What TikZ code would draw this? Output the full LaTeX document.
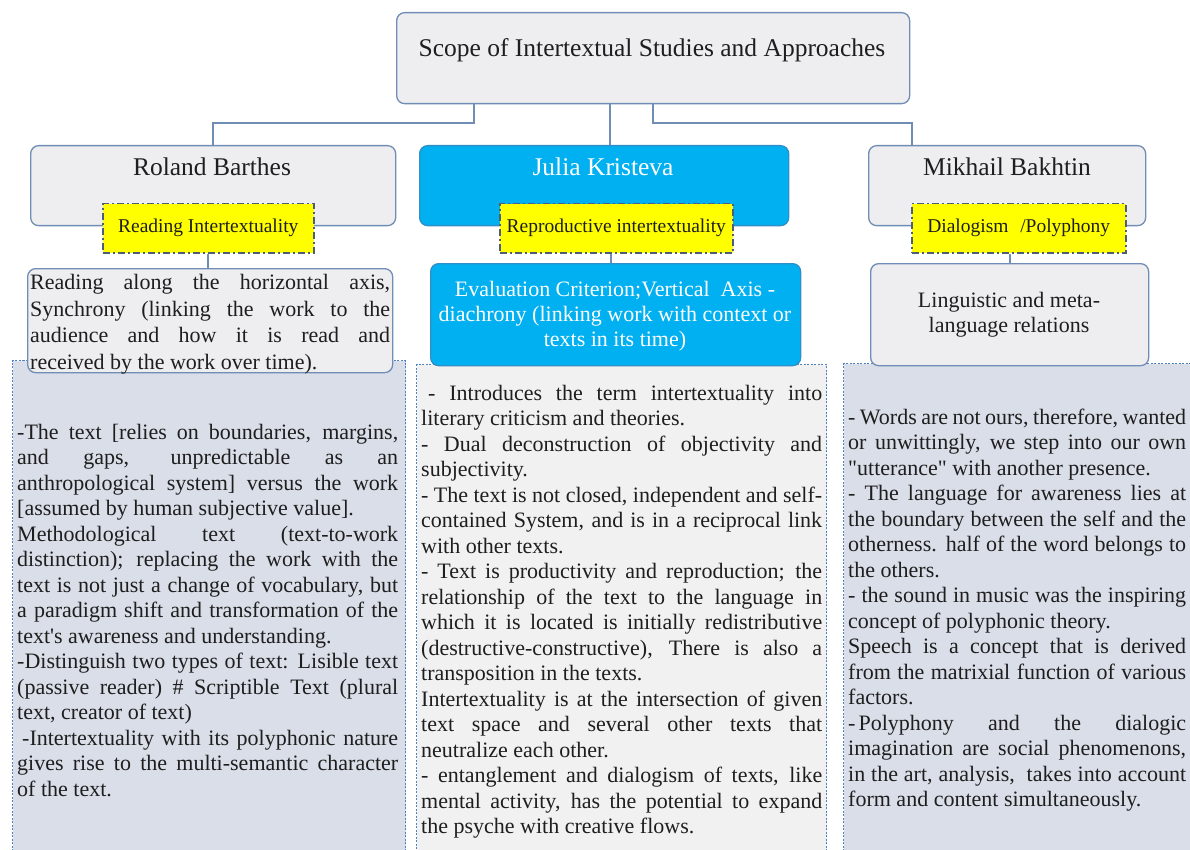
\documentclass[tikz,border=0pt]{standalone}
\usepackage{fontspec}
\setmainfont{Liberation Serif}
\newcommand\jl[2]{\makebox[#1pt][s]{#2}}
\definecolor{edge}{HTML}{6F8DB5}
\definecolor{hdrfill}{HTML}{EEEEF0}
\definecolor{kcyan}{HTML}{00B0F0}
\definecolor{kedge}{HTML}{2F8FC8}
\definecolor{yel}{HTML}{FFFF00}
\definecolor{yedge}{HTML}{4C5E78}
\definecolor{bigblue}{HTML}{D9DEE8}
\definecolor{biggray}{HTML}{F1F1F1}
\definecolor{dotedge}{HTML}{4F81BD}
\definecolor{ink}{HTML}{1E1E1E}
\tikzset{
  hdr/.style={draw=edge, line width=1.3pt, rounded corners=8pt, fill=hdrfill, inner sep=0pt, anchor=north west},
  cyanbox/.style={draw=kedge, line width=1.3pt, rounded corners=8pt, fill=kcyan, inner sep=0pt, anchor=north west},
  yelbox/.style={draw=yedge, line width=1.5pt, dash pattern=on 7pt off 3pt on 2pt off 3pt, fill=yel, inner sep=0pt, anchor=north west, font=\fontsize{19.5}{22}\selectfont, text=ink},
  bigbox/.style={draw=dotedge, line width=1pt, dash pattern=on 2pt off 1.5pt, inner sep=0pt, anchor=north west},
  conn/.style={draw=edge, line width=2pt},
  headtxt/.style={font=\fontsize{25.5}{30}\selectfont, inner sep=0pt},
  bodytxt/.style={font=\fontsize{22}{25.5}\selectfont, text=ink, inner sep=0pt, align=left, anchor=north west},
}
\begin{document}
\begin{tikzpicture}[x=1pt,y=-1pt]
\useasboundingbox (0,0) rectangle (1190,850);
\clip (0,0) rectangle (1190,850);

% big text boxes
\node[bigbox, fill=bigblue, minimum width=393pt, minimum height=500pt] (big1) at (12,360) {};
\node[bigbox, fill=biggray, minimum width=410pt, minimum height=500pt] (big2) at (416,364) {};
\node[bigbox, fill=bigblue, minimum width=370pt, minimum height=500pt] (big3) at (843,363) {};

% top box
\node[hdr, minimum width=513pt, minimum height=91pt] (top) at (396,12) {};
\node[headtxt, text=ink] (ttl) at (652,50) {Scope of Intertextual Studies and Approaches};

% header boxes
\node[hdr, minimum width=365pt, minimum height=80pt] (barthes) at (30,145) {};
\node[cyanbox, minimum width=369pt, minimum height=80pt] (kristeva) at (419,145) {};
\node[hdr, minimum width=277pt, minimum height=80pt] (bakhtin) at (868,145) {};
\node[headtxt, text=ink] (tb) at (212,167) {Roland Barthes};
\node[headtxt, text=white] (tk) at (603,167) {Julia Kristeva};
\node[headtxt, text=ink] (tm) at (1007,167) {Mikhail Bakhtin};

% yellow labels
\node[yelbox, minimum width=211pt, minimum height=49pt] (lab1) at (102,203) {Reading Intertextuality};
\node[yelbox, minimum width=233pt, minimum height=49pt] (lab2) at (499,203) {Reproductive intertextuality};
\node[yelbox, minimum width=214pt, minimum height=49pt] (lab3) at (911,203) {Dialogism\hspace{0.6em}/Polyphony};

% sub boxes
\node[hdr, minimum width=365pt, minimum height=104pt] (sub1) at (27,268) {};
\node[cyanbox, minimum width=370pt, minimum height=102pt] (sub2) at (430,263) {};
\node[hdr, minimum width=278pt, minimum height=102pt] (sub3) at (870,263) {};

\node[bodytxt, font=\fontsize{22}{26.5}\selectfont] (s1t) at (30,271) {%
\strut\jl{360}{Reading along the horizontal axis,}\\
\jl{360}{Synchrony (linking the work to the}\\
\jl{360}{audience and how it is read and}\\
received by the work over time).};
\node[font=\fontsize{22}{25}\selectfont, text=white, align=center, inner sep=0pt] (s2t) at (615,316) {%
Evaluation Criterion;Vertical\hspace{0.5em}Axis -\\
diachrony (linking work with context or\\
texts in its time)};
\node[font=\fontsize{22}{25}\selectfont, text=ink, align=center, inner sep=0pt] (s3t) at (1009,315) {%
Linguistic and meta-\\
language relations};

% body texts
\node[bodytxt] (b1t) at (17,421) {%
\strut\jl{381}{-The text [relies on boundaries, margins,}\\
\jl{381}{and gaps, unpredictable as an}\\
\jl{381}{anthropological system] versus the work}\\
{[}assumed by human subjective value].\\
\jl{381}{Methodological text (text-to-work}\\
\jl{381}{distinction); replacing the work with the}\\
\jl{381}{text is not just a change of vocabulary, but}\\
\jl{381}{a paradigm shift and transformation of the}\\
text\textquotesingle s awareness and understanding.\\
\jl{381}{-Distinguish two types of text: Lisible text}\\
\jl{381}{(passive reader) \# Scriptible Text (plural}\\
text, creator of text)\\
\hspace*{5pt}\jl{376}{-Intertextuality with its polyphonic nature}\\
\jl{381}{gives rise to the multi-semantic character}\\
of the text.};

\node[bodytxt] (b2t) at (421,382) {%
\strut\hspace*{7pt}\jl{394}{- Introduces the term intertextuality into}\\
literary criticism and theories.\\
\jl{401}{- Dual deconstruction of objectivity and}\\
subjectivity.\\
\jl{401}{- The text is not closed, independent and self-}\\
\jl{401}{contained System, and is in a reciprocal link}\\
with other texts.\\
\jl{401}{- Text is productivity and reproduction; the}\\
\jl{401}{relationship of the text to the language in}\\
\jl{401}{which it is located is initially redistributive}\\
\jl{401}{(destructive-constructive), There is also a}\\
transposition in the texts.\\
\jl{401}{Intertextuality is at the intersection of given}\\
\jl{401}{text space and several other texts that}\\
neutralize each other.\\
\jl{401}{- entanglement and dialogism of texts, like}\\
\jl{401}{mental activity, has the potential to expand}\\
the psyche with creative flows.};

\node[bodytxt] (b3t) at (848,406) {%
\strut\jl{338}{- Words are not ours, therefore, wanted}\\
\jl{338}{or unwittingly, we step into our own}\\
\textquotedbl utterance\textquotedbl{} with another presence.\\
\jl{338}{- The language for awareness lies at}\\
\jl{338}{the boundary between the self and the}\\
\jl{338}{otherness. half of the word belongs to}\\
the others.\\
\jl{338}{- the sound in music was the inspiring}\\
concept of polyphonic theory.\\
\jl{338}{Speech is a concept that is derived}\\
\jl{338}{from the matrixial function of various}\\
factors.\\
\jl{338}{-\kern3pt Polyphony and the dialogic}\\
\jl{338}{imagination are social phenomenons,}\\
\jl{338}{in the art, analysis,\ \ takes into account}\\
form and content simultaneously.};

% connectors
\draw[conn] ([xshift=-179.5pt]top.south) -- ++(0,19) -| (barthes.north);
\draw[conn] ([xshift=-43.5pt]top.south) -- ([xshift=5.5pt]kristeva.north);
\draw[conn] (top.south) -- ++(0,19) -| ([xshift=-95.5pt]bakhtin.north);
\draw[conn] (lab1.south) -- (lab1.south |- sub1.north);
\draw[conn] ([xshift=-5.5pt]lab2.south) -- ([xshift=-5.5pt]lab2.south |- sub2.north);
\draw[conn] (lab3.south -| sub3.north) -- (sub3.north);
\end{tikzpicture}
\end{document}
